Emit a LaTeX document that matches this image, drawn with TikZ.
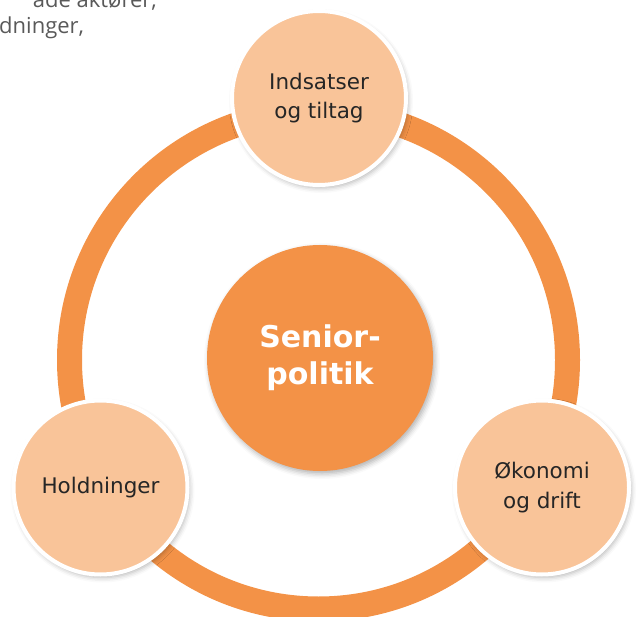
\documentclass[tikz,border=0pt]{standalone}
\usepackage{fontspec}
\setmainfont{DejaVu Sans}
\newfontfamily\bodyfont{Open Sans}
\usetikzlibrary{shadows.blur}
\definecolor{ringorange}{RGB}{243,146,71}
\definecolor{peach}{RGB}{249,196,153}
\definecolor{darktext}{RGB}{38,38,38}
\definecolor{greytext}{RGB}{89,89,89}

\begin{document}
\begin{tikzpicture}[x=1pt, y=-1pt,
    topic/.style={circle, draw=white, line width=4pt, fill=peach,
      minimum size=174pt, inner sep=0pt, align=center, text=darktext,
      font=\fontsize{21.5}{29.5}\selectfont,
      blur shadow={shadow xshift=2pt, shadow yshift=-3pt,
        shadow blur radius=5pt, shadow opacity=30}},
    hub/.style={circle, fill=ringorange, minimum size=226pt, inner sep=0pt,
      align=center, text=white, font=\fontsize{30}{37}\selectfont\bfseries,
      blur shadow={shadow xshift=2pt, shadow yshift=-3pt,
        shadow blur radius=5pt, shadow opacity=30}},
    bodytext/.style={inner sep=0pt, text=greytext,
      font=\bodyfont\fontsize{22}{30}\selectfont}]
  \useasboundingbox (0,0) rectangle (637,617);
  \clip (0,0) rectangle (637,617);

  % running text above the figure
  \node[bodytext, anchor=base east] (lineone) at (157,8) {ade aktører,};
  \node[bodytext, anchor=base west] (linetwo) at (-1,34) {dninger,};

  % the ring
  \coordinate (ringmid) at (318.5,360);
  \draw[ringorange, line width=25pt] (ringmid) circle (249);

  % centre and the three topics
  \node[hub] (senior) at (320,358) {Senior-\\politik};
  \node[topic] (indsatser) at (319,98) {Indsatser\\og tiltag};
  \node[topic] (holdninger) at (100.5,487.5) {Holdninger};
  \node[topic] (okonomi) at (542,487.5) {Økonomi\\og drift};
\end{tikzpicture}
\end{document}
